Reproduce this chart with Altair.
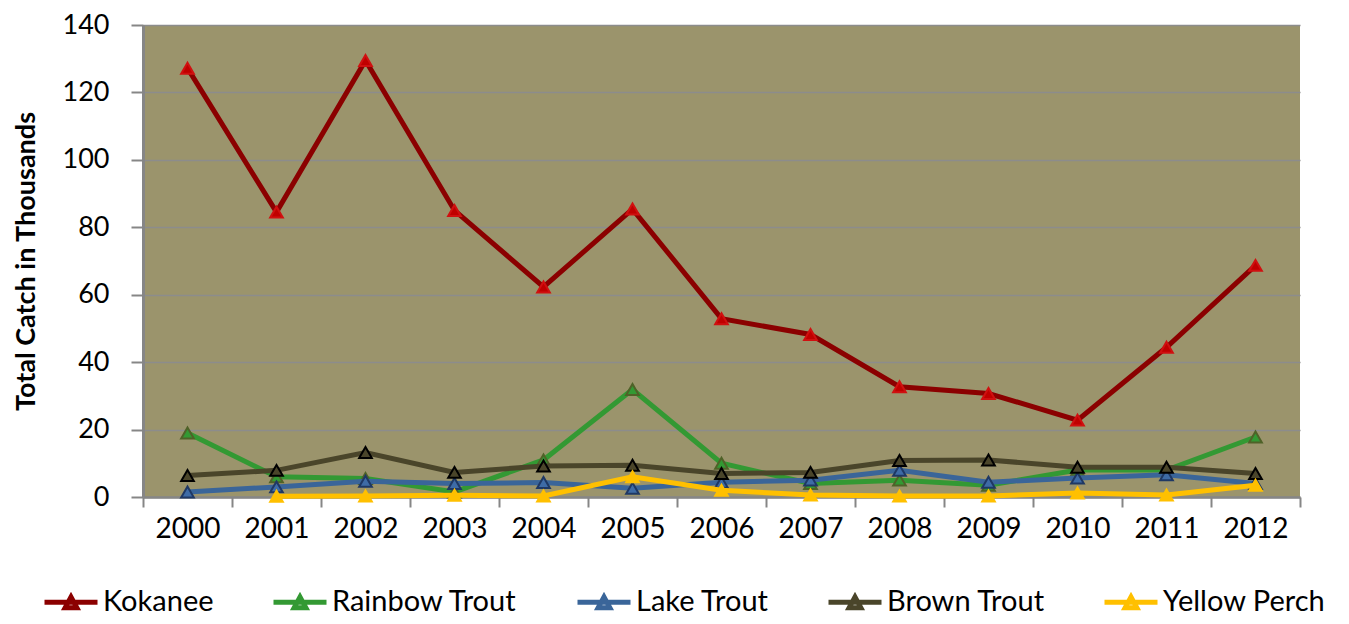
import altair as alt
import pandas as pd

years = list(range(2000, 2013))
species = ["Kokanee", "Rainbow Trout", "Lake Trout", "Brown Trout", "Yellow Perch"]
kokanee = [127.2, 84.5, 129.5, 85.0, 62.3, 85.4, 52.9, 48.2, 32.7, 30.7, 22.8, 44.4, 68.7]
rainbow = [19.0, 6.0, 5.5, 1.5, 11.0, 31.9, 10.0, 4.0, 5.0, 3.5, 8.0, 8.0, 17.8]
lake = [1.5, 3.0, 4.7, 4.0, 4.3, 2.6, 4.4, 5.0, 7.9, 4.4, 5.6, 6.6, 4.0]
brown = [6.4, 7.9, 13.2, 7.3, 9.2, 9.4, 7.0, 7.3, 10.8, 11.0, 8.8, 8.8, 7.0]
perch = [None, 0.2, 0.3, 0.5, 0.3, 6.0, 2.0, 0.6, 0.3, 0.3, 1.2, 0.6, 3.5]
series = [kokanee, rainbow, lake, brown, perch]

line_colors = ["#8B0000", "#339933", "#3A6599", "#4A452A", "#FFC000"]
marker_fill = ["#C00000", "#339933", "#3E6BA6", "#4A452A", "#FFC000"]
marker_stroke = ["#D01010", "#4F6228", "#1F3864", "#000000", "#FFC000"]

rows = []
for name, vals in zip(species, series):
    for yr, v in zip(years, vals):
        if v is not None:
            rows.append({"species": name, "year": yr, "catch": v})
df = pd.DataFrame(rows)

FONT = "Lato"
tick_vals = [yr - 0.5 for yr in years] + [years[-1] + 0.5]

x_enc = alt.X(
    "year:Q",
    title=None,
    scale=alt.Scale(domain=[1999.5, 2012.5], nice=False, zero=False),
    axis=alt.Axis(
        values=tick_vals,
        labelExpr="datum.value > 2012 ? '' : toString(datum.value + 0.5)",
        labelOffset=44.5,
        labelFlush=False,
        labelOverlap=False,
        grid=False,
        labelFontSize=28,
        labelFont=FONT,
        labelColor="#000000",
        tickColor="#868686",
        tickSize=10,
        tickWidth=2,
        domainColor="#868686",
        domainWidth=2.5,
        labelPadding=8,
    ),
)
y_enc = alt.Y(
    "catch:Q",
    title="Total Catch in Thousands",
    scale=alt.Scale(domain=[0, 140], nice=False),
    axis=alt.Axis(
        values=[0, 20, 40, 60, 80, 100, 120, 140],
        grid=True,
        gridColor="#8C8C8C",
        gridWidth=1.5,
        labelFontSize=27,
        labelFont=FONT,
        labelColor="#000000",
        labelPadding=22,
        tickColor="#868686",
        tickSize=12,
        tickWidth=2,
        domainColor="#868686",
        domainWidth=3,
        titleFont=FONT,
        titleFontSize=27,
        titleFontWeight="bold",
        titleColor="#000000",
        titleX=-117,
        titleBaseline="middle",
    ),
)

legend = alt.Legend(
    title=None,
    orient="none",
    legendX=-101,
    legendY=548,
    direction="horizontal",
    columns=5,
    columnPadding=49,
    symbolType="M-1,0H1M-0.22,0.2L0,-0.2L0.22,0.2Z",
    symbolSize=2809,
    symbolStrokeWidth=5,
    labelFontSize=29,
    labelFont=FONT,
    labelColor="#000000",
    labelOffset=3,
    labelLimit=400,
)

color_enc = alt.Color(
    "species:N",
    scale=alt.Scale(domain=species, range=line_colors),
    legend=legend,
)

base = alt.Chart(df)
layers = []
for i, name in enumerate(species):
    sub = base.transform_filter(alt.datum.species == name)
    layers.append(
        sub.mark_line(strokeWidth=5).encode(x=x_enc, y=y_enc, color=color_enc)
    )
    layers.append(
        sub.mark_point(
            shape="triangle-up",
            filled=True,
            size=160,
            fill=marker_fill[i],
            stroke=marker_stroke[i],
            strokeWidth=2,
            opacity=1,
        ).encode(x=x_enc, y=y_enc)
    )

chart = (
    alt.layer(*layers)
    .properties(
        width=1157,
        height=472,
        background="#FFFFFF",
        autosize=alt.AutoSizeParams(type="none"),
        padding={"left": 135, "top": 17, "right": 41, "bottom": 119},
    )
    .configure_view(fill="#9B946C", stroke=None)
)

chart.save("out.html", embed_options={"renderer": "svg", "actions": False})
